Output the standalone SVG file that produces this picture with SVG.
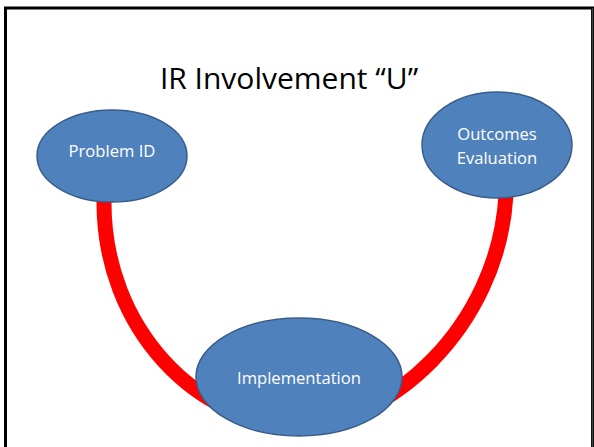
<svg xmlns="http://www.w3.org/2000/svg" width="594" height="447" viewBox="0 0 594 447">
  <style>
    .node { fill: #4F81BD; stroke: #385D8A; stroke-width: 1.5; }
    .label { fill: #FFFFFF; font-family: "Open Sans", "Liberation Sans", sans-serif; font-size: 16.6px; text-anchor: middle; }
    .title { fill: #000000; font-family: "Open Sans", "Liberation Sans", sans-serif; font-size: 30px; text-anchor: middle; }
    .u { fill: none; stroke: #FF0000; stroke-width: 15; }
  </style>
  <rect width="594" height="447" fill="#FFFFFF"/>
  <!-- slide frame -->
  <path d="M5.5,447 V8 H592.5 V447" fill="none" stroke="#000000" stroke-width="3"/>
  <line x1="592.5" y1="8" x2="592.5" y2="447" stroke="#444444" stroke-width="1.5"/>

  <text class="title" x="289" y="89">IR Involvement “U”</text>

  <g id="connectors">
    <path class="u" d="M104,198 C102,330 200,425 300,425 C385,425 498,330 506,195"/>
  </g>

  <g id="problem-id">
    <ellipse class="node" cx="112" cy="156" rx="75" ry="46"/>
    <text class="label" x="112" y="157">Problem ID</text>
  </g>

  <g id="outcomes-evaluation">
    <ellipse class="node" cx="497" cy="145" rx="75" ry="53"/>
    <text class="label" x="497" y="140">Outcomes</text>
    <text class="label" x="497" y="164">Evaluation</text>
  </g>

  <g id="implementation">
    <ellipse class="node" cx="299" cy="377" rx="103" ry="59"/>
    <text class="label" x="299" y="384">Implementation</text>
  </g>
</svg>
